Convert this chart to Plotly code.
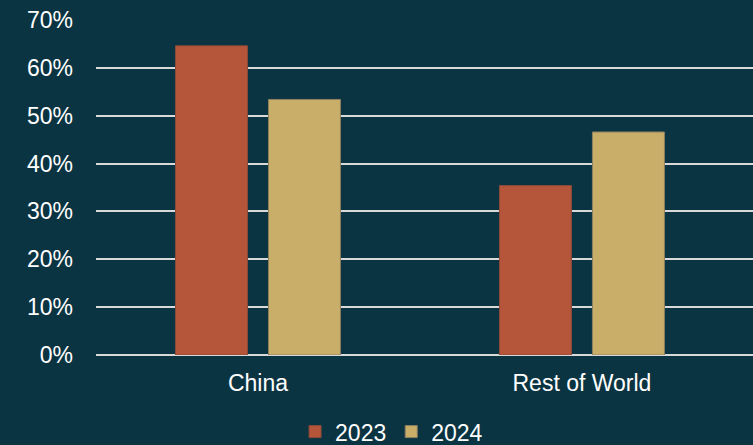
import plotly.graph_objects as go

categories = ["China", "Rest of World"]
series_names = ["2023", "2024"]
values_2023 = [64.6, 35.4]
values_2024 = [53.4, 46.6]
y_ticks = [0, 10, 20, 30, 40, 50, 60, 70]
y_tick_labels = ["0%", "10%", "20%", "30%", "40%", "50%", "60%", "70%"]

BG = "#0B3442"
C23 = "#B5563A"
C24 = "#C9AE6A"
FONT = "Liberation Sans, Arial, sans-serif"
FS = 23

fig = go.Figure()
fig.add_trace(go.Bar(x=categories, y=values_2023, name=series_names[0],
                     marker=dict(color=C23, line=dict(color="#8a4a3a", width=1))))
fig.add_trace(go.Bar(x=categories, y=values_2024, name=series_names[1],
                     marker=dict(color=C24, line=dict(color="#8f8060", width=1))))

fig.update_layout(
    width=753, height=445,
    paper_bgcolor=BG, plot_bgcolor=BG,
    margin=dict(l=96, r=0, t=20, b=90),
    barmode="group", bargap=0.426, bargroupgap=0.226,
    font=dict(family=FONT, size=FS, color="#ffffff"),
    showlegend=True,
    legend=dict(orientation="h", x=0.52, xanchor="center", xref="container",
                y=0.03, yanchor="middle", yref="container",
                font=dict(size=FS, color="#ffffff"), itemwidth=30, tracegroupgap=0,
                bgcolor="rgba(0,0,0,0)"),
    xaxis=dict(range=[-0.5, 1.528], showgrid=False, zeroline=False, showline=False,
               tickfont=dict(size=FS, color="#ffffff"), ticks="", ticklabelstandoff=12),
    yaxis=dict(range=[0, 70], tickvals=y_ticks, ticktext=y_tick_labels,
               showgrid=True, gridcolor="#d9d9d9", gridwidth=1.5,
               zeroline=True, zerolinecolor="#d9d9d9", zerolinewidth=1.5,
               showline=False, ticks="", ticklabelstandoff=22,
               tickfont=dict(size=FS, color="#ffffff")),
)

fig.write_html("out.html", config={"displayModeBar": False},
               post_script="document.body.style.margin='0';")
